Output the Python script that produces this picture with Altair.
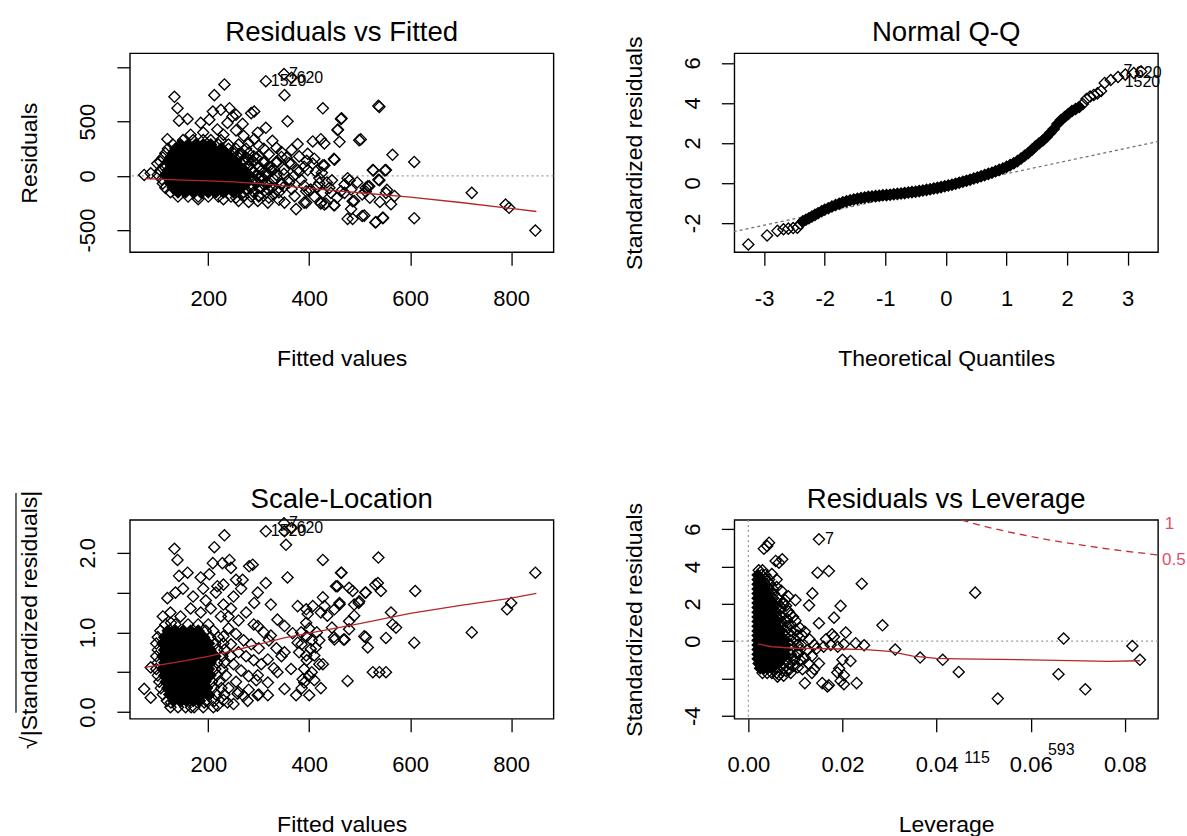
import altair as alt
import pandas as pd

FONT = "Liberation Sans"
W, H = 424, 199

# ---------------- Panel 1: Residuals vs Fitted ----------------
rvf_sparse = [
    (232, 844), (351, 745), (133, 730), (139, 625), (212, 745), (142, 510), (159, 525),
    (209, 594), (225, 610), (242, 625), (285, 579), (291, 594), (185, 489), (202, 519), (218, 429),
    (238, 489), (248, 549), (268, 480), (255, 564), (357, 504), (119, 339), (314, 444), (298, 399),
    (327, 324), (291, 339), (377, 294), (99, 114), (73, 9), (86, 24),
    (337, 129), (364, 114), (377, 54), (371, -186), (337, -126), (351, -246), (318, -246), (298, -231),
    (390, -246), (374, -306),
    (427, 624), (537, 646), (463, 525), (456, 423), (460, 315), (499, 330), (423, 339), (430, 300),
    (407, 318), (397, 204), (410, 159), (407, 114), (427, 99), (413, 39), (397, 54), (390, 84),
    (450, 150), (565, 195), (608, 129), (526, 54), (552, 54), (537, -36), (516, -96), (476, -21),
    (722, -156), (483, -126), (489, -231), (483, -306), (486, -396), (476, -396), (509, -366),
    (532, -426), (546, -390), (562, -261), (569, -186), (552, -156), (608, -390), (394, -246),
    (423, -255), (433, -255), (450, -270), (427, -156), (443, -156), (463, -141), (470, -156),
    (394, -141), (403, -126), (384, -36), (420, -66), (512, -111), (519, -96),
    (789, -264), (796, -294), (848, -504), (539, 637), (546, -384), (531, -429), (505, -369),
    (486, -234), (512, -144), (539, -39), (550, 51), (527, 51), (554, -129), (464, 532), (457, 427),
    (502, 337), (449, 157), (430, 97), (430, -264), (449, -270), (423, -249),
    (165, 380), (190, 400), (230, 380), (255, 420), (270, 370), (280, 300), (300, 280), (310, 250),
    (320, 200), (335, 260), (345, 220), (355, 170), (365, 240), (300, 180), (280, 150), (330, 60),
    (350, 20), (360, -30), (345, -80), (365, -120), (300, -180), (320, -200), (340, -220),
    (260, -230), (280, -240), (230, -215), (180, -215),
    (255, -200), (265, -170), (275, -130), (285, -90), (295, -50), (305, -10), (315, 30), (325, 80),
    (335, 130), (345, 175), (260, 200), (270, 150), (280, 100), (290, 40), (300, -20), (310, -80),
    (320, -130), (330, -170), (340, -150), (350, -100), (360, -60), (370, 0), (380, 40), (390, -90),
    (400, -140), (410, -190), (415, -100), (420, -20), (425, 30), (435, -60), (440, -110), (455, -200),
    (445, -40), (470, -80), (480, -40), (495, -60), (505, -170), (520, -200), (540, -240), (380, 180),
    (395, 140), (360, 120), (320, -60), (285, -190), (300, -110), (265, -60), (270, 60), (290, 180),
    (310, 120), (350, 60),
]
rvf_blob = {
    330: [150, 170, 190, 205, 225],
    290: [130, 145, 160, 175, 190, 205, 220, 240, 260],
    250: [120, 135, 150, 165, 180, 195, 210, 225, 240, 255, 275],
    210: [115, 130, 145, 160, 175, 190, 205, 220, 235, 250, 265, 280],
    170: [110, 125, 140, 155, 170, 185, 200, 215, 230, 245, 260, 275, 295],
    130: [105, 120, 135, 150, 165, 180, 195, 210, 225, 240, 255, 270, 290, 310],
    90: [112, 127, 142, 157, 172, 187, 202, 217, 232, 247, 262, 280, 300, 320],
    50: [105, 120, 135, 150, 165, 180, 195, 210, 225, 240, 255, 270, 285, 305, 325],
    10: [100, 115, 130, 145, 160, 175, 190, 205, 220, 235, 250, 265, 280, 295, 315, 335],
    -30: [108, 123, 138, 153, 168, 183, 198, 213, 228, 243, 258, 273, 290, 310, 330],
    -70: [110, 125, 140, 155, 170, 185, 200, 215, 230, 245, 260, 275, 295, 315, 345],
    -110: [115, 130, 145, 160, 175, 190, 205, 220, 235, 250, 265, 285, 305, 325],
    -150: [125, 140, 155, 170, 185, 200, 215, 230, 250, 270, 290, 315],
    -190: [140, 160, 180, 200, 220, 245, 270, 300],
}
rvf_ids = ["1520", "7", "620"]
rvf_id_fitted = [314, 350, 365]
rvf_id_resid = [874, 940, 905]
rvf_smooth_fitted = [75, 150, 200, 250, 300, 350, 400, 450, 500, 600, 700, 800, 850]
rvf_smooth_resid = [-25, -38, -45, -55, -70, -92, -115, -135, -155, -195, -245, -300, -328]

# ---------------- Panel 2: Normal Q-Q ----------------
qq_theoretical = [-3.26, -2.95, -2.78, -2.68, -2.60, -2.52, -2.45, -2.40, -2.36, -2.31, -2.26, -2.21,
                  -2.16, -2.11, -2.05, -2.00, -1.94, -1.88, -1.82, -1.76, -1.70, -1.64, -1.58, -1.52,
                  -1.46, -1.40, -1.34, -1.28, -1.22, -1.16, -1.10, -1.04, -0.98, -0.92, -0.86, -0.80,
                  -0.74, -0.68, -0.62, -0.56, -0.50, -0.44, -0.38, -0.32, -0.26, -0.20, -0.14, -0.08,
                  -0.02, 0.04, 0.10, 0.16, 0.22, 0.28, 0.34, 0.40, 0.46, 0.52, 0.58, 0.64, 0.70, 0.76,
                  0.82, 0.88, 0.94, 1.00, 1.06, 1.12, 1.18, 1.24, 1.30, 1.36, 1.42, 1.48, 1.54, 1.60,
                  1.66, 1.72, 1.78, 1.84, 1.90, 1.96, 2.02, 2.08, 2.14, 2.20, 2.26, 2.32, 2.38, 2.44,
                  2.50, 2.56, 2.62, 2.72, 2.84, 2.96, 3.10, 3.22]
qq_std_resid = [-3.08, -2.63, -2.40, -2.32, -2.29, -2.26, -2.24, -2.05, -1.92, -1.84, -1.77, -1.68,
                -1.60, -1.52, -1.42, -1.34, -1.27, -1.18, -1.11, -1.04, -0.97, -0.92, -0.87, -0.83,
                -0.79, -0.76, -0.73, -0.70, -0.68, -0.66, -0.64, -0.62, -0.61, -0.59, -0.57, -0.55,
                -0.53, -0.51, -0.48, -0.46, -0.44, -0.41, -0.38, -0.35, -0.32, -0.28, -0.25, -0.21,
                -0.17, -0.13, -0.09, -0.04, 0.01, 0.06, 0.11, 0.16, 0.22, 0.27, 0.33, 0.39, 0.45, 0.51,
                0.58, 0.65, 0.72, 0.80, 0.89, 0.98, 1.09, 1.22, 1.36, 1.50, 1.66, 1.83, 1.98, 2.12,
                2.30, 2.50, 2.70, 2.95, 3.15, 3.30, 3.45, 3.60, 3.70, 3.80, 3.95, 4.20, 4.32, 4.40,
                4.48, 4.60, 5.00, 5.15, 5.30, 5.42, 5.50, 5.58]
qq_dense_range = [-2.36, 2.20]
qq_line_x = [-3.5, 3.5]
qq_line_y = [-2.44, 2.07]
qq_ids = ["7", "620", "1520"]
qq_id_x = [2.93, 3.12, 2.95]
qq_id_y = [5.60, 5.50, 5.05]

# ---------------- Panel 3: Scale-Location ----------------
sl_sparse = [
    (232, 2.22), (351, 2.27), (354, 2.10), (133, 2.05), (139, 1.91), (212, 2.07), (142, 1.71),
    (159, 1.75), (242, 1.91), (228, 1.87), (209, 1.87), (245, 1.81), (281, 1.83), (288, 1.85),
    (255, 1.66), (268, 1.66), (185, 1.69), (202, 1.73), (218, 1.58), (357, 1.69), (314, 1.62),
    (119, 1.43), (298, 1.50), (324, 1.35), (291, 1.37), (377, 1.33), (394, 1.29), (86, 0.56),
    (73, 0.29), (86, 0.18), (126, 1.12),
    (298, 1.08), (324, 0.96), (337, 1.16), (351, 1.08), (367, 0.99), (377, 0.87), (351, 0.75),
    (318, 0.66), (298, 0.46), (318, 0.37), (337, 0.50), (364, 0.54), (351, 0.29), (374, 0.21),
    (390, 0.37), (318, 0.21),
    (126, 0.12), (146, 0.14), (166, 0.06), (192, 0.12), (218, 0.08), (238, 0.12), (258, 0.23),
    (278, 0.14), (298, 0.21),
    (427, 1.91), (537, 1.94), (463, 1.75), (456, 1.58), (479, 1.56), (486, 1.52), (536, 1.62),
    (542, 1.52), (427, 1.44), (407, 1.33), (430, 1.33), (450, 1.29), (460, 1.35), (489, 1.35),
    (499, 1.39), (512, 1.50), (397, 1.23), (423, 1.25), (436, 1.21), (394, 1.12), (489, 1.21),
    (479, 1.04), (470, 0.91), (450, 0.91), (509, 0.95), (516, 0.81), (552, 0.93), (562, 1.25),
    (565, 1.10), (572, 1.06), (610, 1.52), (608, 0.87), (722, 1.00), (526, 0.50), (539, 0.50),
    (552, 0.50), (476, 0.39), (423, 0.30), (400, 0.21), (390, 0.54), (394, 0.71), (387, 0.41),
    (410, 0.71), (420, 0.60), (427, 0.60), (403, 0.79), (413, 0.81),
    (848, 1.75), (800, 1.37), (792, 1.29), (531, 1.60), (511, 1.50), (498, 1.37), (464, 1.75),
    (453, 1.58), (460, 1.37), (479, 1.14), (449, 0.94), (468, 0.91), (445, 1.06), (512, 0.94),
    (384, 1.00), (395, 0.95), (405, 0.90), (400, 1.05), (415, 1.00), (420, 0.90), (385, 0.85),
    (380, 0.75), (395, 0.65), (405, 0.50), (385, 0.30), (410, 0.40), (400, 0.45),
    (225, 1.20), (245, 1.30), (260, 1.15), (240, 1.05), (255, 0.98), (270, 0.90), (285, 0.85),
    (300, 0.80), (230, 0.95), (245, 0.85), (260, 0.75), (275, 0.70), (290, 0.65), (305, 0.60),
    (250, 0.60), (265, 0.52), (280, 0.45), (295, 0.40), (255, 0.38), (240, 0.30), (260, 0.25),
    (280, 0.28), (300, 0.22), (230, 0.15), (250, 0.10), (270, 0.20), (320, 0.90), (335, 0.80),
    (345, 0.70), (330, 0.55), (310, 1.00), (290, 1.10), (275, 1.25), (230, 1.35), (205, 1.30),
    (185, 1.25), (165, 1.30), (145, 1.20), (125, 1.25), (110, 1.20), (195, 1.40), (215, 1.50),
    (170, 1.45), (150, 1.55), (135, 1.50), (250, 1.45), (265, 1.55), (230, 1.60), (190, 1.55),
    (240, 1.20),
]
sl_blob = {
    1.10: [115, 135, 160, 180, 200],
    1.02: [105, 120, 135, 150, 165, 180, 195, 210],
    0.94: [100, 113, 126, 139, 152, 165, 178, 191, 204, 220],
    0.86: [97, 110, 123, 136, 149, 162, 175, 188, 201, 214, 230],
    0.78: [100, 113, 126, 139, 152, 165, 178, 191, 204, 217, 232],
    0.70: [97, 110, 123, 136, 149, 162, 175, 188, 201, 214, 228, 245],
    0.62: [100, 113, 126, 139, 152, 165, 178, 191, 204, 217, 232],
    0.54: [97, 110, 123, 136, 149, 162, 175, 188, 201, 214, 228],
    0.46: [100, 113, 126, 139, 152, 165, 178, 191, 204, 217, 235],
    0.38: [103, 116, 129, 142, 155, 168, 181, 194, 207, 222],
    0.30: [106, 119, 132, 145, 158, 171, 184, 197, 210, 226],
    0.22: [110, 123, 136, 149, 162, 175, 188, 201, 215, 232],
    0.14: [118, 131, 144, 157, 170, 183, 196, 212],
    0.06: [125, 140, 155, 172, 190, 210],
}
sl_ids = ["1520", "7", "620"]
sl_id_fitted = [314, 350, 365]
sl_id_sqrt = [2.27, 2.37, 2.31]
sl_smooth_fitted = [75, 150, 200, 250, 300, 350, 400, 500, 600, 700, 800, 850]
sl_smooth_sqrt = [0.56, 0.64, 0.70, 0.77, 0.85, 0.93, 0.99, 1.11, 1.24, 1.34, 1.43, 1.49]

# ---------------- Panel 4: Residuals vs Leverage ----------------
lev_sparse = [
    (0.0033, 4.96), (0.0040, 5.10), (0.0044, 5.28), (0.0058, 4.30), (0.0072, 4.39), (0.0065, 4.21),
    (0.0147, 3.67), (0.0171, 3.76), (0.0241, 3.08), (0.0136, 2.56), (0.0129, 1.92), (0.0196, 1.89),
    (0.0182, 1.26), (0.0150, 0.96), (0.0207, 0.46), (0.0178, 0.37), (0.0182, 0.24), (0.0285, 0.85),
    (0.0228, -0.11), (0.0246, -0.22), (0.0203, -0.17), (0.0312, -0.45), (0.0200, -1.00),
    (0.0217, -1.06), (0.0193, -1.47), (0.0189, -1.68), (0.0203, -1.83), (0.0196, -2.13),
    (0.0120, -2.25), (0.0157, -2.25), (0.0171, -2.36), (0.0168, -2.43), (0.0203, -2.31),
    (0.0230, -2.25), (0.0365, -0.88), (0.0413, -1.00), (0.0447, -1.65), (0.0482, 2.60),
    (0.0530, -3.08), (0.0670, 0.14), (0.0659, -1.77), (0.0716, -2.58), (0.0816, -0.26),
    (0.0832, -1.00),
    (0.0075, 2.0), (0.0080, 1.9), (0.0068, 1.7), (0.0085, 1.6), (0.0095, 1.3), (0.0100, 1.1),
    (0.0090, 0.9), (0.0110, 0.7), (0.0120, 0.5), (0.0105, 0.3), (0.0130, 0.1), (0.0140, -0.2),
    (0.0125, -0.5), (0.0135, -0.8), (0.0110, -1.0), (0.0095, -1.3), (0.0080, -1.6), (0.0065, -1.8),
    (0.0090, -1.7), (0.0115, -1.5), (0.0145, -0.4), (0.0160, -0.3), (0.0100, 2.2), (0.0060, 3.3),
    (0.0050, 3.6), (0.0070, 2.7), (0.0085, 2.4), (0.0060, 2.9), (0.0175, -0.2), (0.0190, -0.3),
    (0.0165, 0.1),
    (0.0062, -1.9), (0.0075, -1.85), (0.0088, -1.5), (0.0098, -1.0), (0.0105, -0.6), (0.0112, -0.2),
    (0.0100, 0.6), (0.0090, 1.4), (0.0078, 2.2), (0.0082, 1.2), (0.0115, 0.3), (0.0120, -0.9),
    (0.0105, -1.4), (0.0128, -1.2), (0.0140, -1.5), (0.0150, -1.2), (0.0135, -1.7),
]
lev_blob = {
    3.80: [0.0022, 0.0030],
    3.55: [0.0020, 0.0028, 0.0036],
    3.30: [0.0020, 0.0028, 0.0036, 0.0044],
    3.05: [0.0020, 0.0028, 0.0036, 0.0046],
    2.80: [0.0020, 0.0028, 0.0036, 0.0044, 0.0052],
    2.55: [0.0020, 0.0028, 0.0036, 0.0044, 0.0054],
    2.30: [0.0020, 0.0028, 0.0036, 0.0044, 0.0052, 0.0062],
    2.05: [0.0020, 0.0028, 0.0036, 0.0044, 0.0052, 0.0062, 0.0072],
    1.80: [0.0020, 0.0028, 0.0036, 0.0044, 0.0052, 0.0060, 0.0070],
    1.55: [0.0020, 0.0028, 0.0036, 0.0044, 0.0052, 0.0060],
    1.30: [0.0020, 0.0028, 0.0036, 0.0044, 0.0052, 0.0060, 0.0070],
    1.05: [0.0020, 0.0028, 0.0036, 0.0044, 0.0052, 0.0060, 0.0070, 0.0080],
    0.80: [0.0020, 0.0028, 0.0036, 0.0044, 0.0052, 0.0060, 0.0070, 0.0082],
    0.55: [0.0020, 0.0028, 0.0036, 0.0044, 0.0052, 0.0060, 0.0068, 0.0078, 0.0090],
    0.30: [0.0020, 0.0028, 0.0036, 0.0044, 0.0052, 0.0060, 0.0068, 0.0078, 0.0092],
    0.05: [0.0020, 0.0028, 0.0036, 0.0044, 0.0052, 0.0060, 0.0068, 0.0078, 0.0090, 0.0100],
    -0.20: [0.0020, 0.0028, 0.0036, 0.0044, 0.0052, 0.0060, 0.0068, 0.0078, 0.0090, 0.0105],
    -0.45: [0.0020, 0.0028, 0.0036, 0.0044, 0.0052, 0.0060, 0.0068, 0.0078, 0.0090, 0.0110],
    -0.70: [0.0020, 0.0028, 0.0036, 0.0044, 0.0052, 0.0060, 0.0068, 0.0078, 0.0090, 0.0105],
    -0.95: [0.0020, 0.0028, 0.0036, 0.0044, 0.0052, 0.0060, 0.0068, 0.0080, 0.0095],
    -1.20: [0.0022, 0.0030, 0.0038, 0.0046, 0.0054, 0.0064, 0.0075, 0.0085],
    -1.45: [0.0025, 0.0033, 0.0041, 0.0050, 0.0060, 0.0075],
    -1.70: [0.0030, 0.0040, 0.0050, 0.0060],
}
lev_id_point = [(0.0150, 5.46)]
lev_ids = ["7"]
lev_low_ids = ["115", "593"]
lev_low_id_h = [0.0486, 0.0665]
lev_low_id_y = [-6.25, -5.82]
lev_smooth_h = [0.002, 0.005, 0.010, 0.015, 0.020, 0.025, 0.030, 0.035, 0.040, 0.045, 0.060, 0.0765, 0.0832]
lev_smooth_y = [-0.15, -0.30, -0.38, -0.40, -0.42, -0.45, -0.55, -0.80, -0.92, -0.95, -1.00, -1.08, -1.05]
cook_h = [0.0453, 0.050, 0.055, 0.060, 0.065, 0.070, 0.075, 0.080, 0.087]
cook_y = [6.49, 6.16, 5.87, 5.61, 5.38, 5.18, 4.99, 4.83, 4.62]
cook_labels = ["1", "0.5"]
cook_label_h = [0.0885, 0.0879]
cook_label_y = [6.28, 4.33]

# ---------------- helpers ----------------
def points_df(pairs, blob=None):
    xs = [p[0] for p in pairs]
    ys = [p[1] for p in pairs]
    if blob:
        for yv, xl in blob.items():
            for xv in xl:
                xs.append(xv)
                ys.append(yv)
    return pd.DataFrame({"x": xs, "y": ys})


def blob_core_df(blob, skip_first=1, skip_last=1):
    """Interior of an over-plotted cloud (drawn solid, as overlapping open symbols look)."""
    keys = sorted(blob.keys())
    xs, ys = [], []
    for yv in keys[1:-1]:
        xl = blob[yv]
        for xv in xl[skip_first:len(xl) - skip_last]:
            xs.append(xv)
            ys.append(yv)
    return pd.DataFrame({"x": xs, "y": ys})


def x_axis(values, expr, title):
    return alt.Axis(values=values, labelExpr=expr, title=title,
                    titleX=W / 2, titleY=106, titleAlign="center", titleBaseline="middle",
                    titleFont=FONT, titleFontSize=23, titleFontWeight="normal", titleColor="black",
                    labelFont=FONT, labelFontSize=22, labelColor="black",
                    labelBaseline="middle", labelAlign="center", labelPadding=33,
                    labelOverlap=False, labelFlush=False, labelBound=False,
                    tickSize=13, tickWidth=1.3, tickColor="black", domain=False, grid=False, offset=0)


def y_axis(values, expr, title):
    return alt.Axis(values=values, labelExpr=expr, title=title,
                    titleX=-100, titleY=H / 2, titleAngle=270, titleAlign="center", titleBaseline="middle",
                    titleFont=FONT, titleFontSize=23, titleFontWeight="normal", titleColor="black",
                    labelFont=FONT, labelFontSize=22, labelColor="black", labelAngle=270,
                    labelBaseline="middle", labelAlign="center", labelPadding=29,
                    labelOverlap=False, labelFlush=False, labelBound=False,
                    tickSize=13, tickWidth=1.3, tickColor="black", domain=False, grid=False, offset=0)


def title_mark(text):
    return alt.Chart(pd.DataFrame({"t": [text]})).mark_text(
        font=FONT, fontSize=27.6, color="black", align="center", baseline="alphabetic"
    ).encode(text="t:N", x=alt.value(W / 2), y=alt.value(-12))


def enc(xsc, ysc, xax, yax):
    return dict(x=alt.X("x:Q", scale=xsc, axis=xax), y=alt.Y("y:Q", scale=ysc, axis=yax))


def pts(df, e):
    return alt.Chart(df).mark_point(shape="diamond", filled=False, color="black", size=125,
                                    strokeWidth=1.35, opacity=1).encode(**e)


def pts_solid(df, e):
    return alt.Chart(df).mark_point(shape="diamond", filled=True, color="black", size=125,
                                    opacity=1).encode(**e)


def hline(e, color="#9a9a9a"):
    return alt.Chart(pd.DataFrame({"y": [0]})).mark_rule(color=color, strokeDash=[2, 3], strokeWidth=1.2).encode(y=e["y"])


def line(xs, ys, e, color, dash=None, sw=1.3):
    kw = dict(color=color, strokeWidth=sw)
    if dash:
        kw["strokeDash"] = dash
    return alt.Chart(pd.DataFrame({"x": xs, "y": ys})).mark_line(**kw).encode(**e)


def labels(ids, xs, ys, e, dx=5, align="left", color="black", size=16):
    return alt.Chart(pd.DataFrame({"x": xs, "y": ys, "t": ids})).mark_text(
        font=FONT, fontSize=size, align=align, baseline="middle", dx=dx, color=color
    ).encode(text="t:N", **e)


SMOOTH = "#b3272b"

# ---------------- Panel 1 ----------------
xs1 = alt.Scale(domain=[44.7, 884], nice=False, zero=False)
ys1 = alt.Scale(domain=[-703, 1131], nice=False, zero=False)
e1 = enc(xs1, ys1,
         x_axis([200, 400, 600, 800], "toString(datum.value)", "Fitted values"),
         y_axis([-500, 0, 500, 1000], "datum.value == 1000 ? '' : toString(datum.value)", "Residuals"))
anchor = alt.Chart(pd.DataFrame({"a": [0]})).mark_rect(opacity=0).encode(
    x=alt.value(-129), x2=alt.value(-128), y=alt.value(-52), y2=alt.value(-51))
p1 = alt.layer(
    hline(e1),
    pts(points_df(rvf_sparse + list(zip(rvf_id_fitted, rvf_id_resid)), rvf_blob), e1),
    pts_solid(blob_core_df(rvf_blob, 1, 3), e1),
    line(rvf_smooth_fitted, rvf_smooth_resid, e1, SMOOTH),
    labels(rvf_ids, rvf_id_fitted, rvf_id_resid, e1),
    title_mark("Residuals vs Fitted"),
    anchor,
).properties(width=W, height=H)

# ---------------- Panel 2 ----------------
xs2 = alt.Scale(domain=[-3.49, 3.50], nice=False, zero=False)
ys2 = alt.Scale(domain=[-3.465, 6.485], nice=False, zero=False)
e2 = enc(xs2, ys2,
         x_axis([-3, -2, -1, 0, 1, 2, 3], "toString(datum.value)", "Theoretical Quantiles"),
         y_axis([-2, 0, 2, 4, 6], "toString(datum.value)", "Standardized residuals"))
qq_df = pd.DataFrame({"x": qq_theoretical, "y": qq_std_resid})
qq_core = qq_df[(qq_df["x"] >= qq_dense_range[0]) & (qq_df["x"] <= qq_dense_range[1])]
p2 = alt.layer(
    line(qq_line_x, qq_line_y, e2, "#6e6e6e", dash=[3, 3], sw=1.2),
    pts(qq_df, e2),
    pts_solid(qq_core, e2),
    labels(qq_ids, qq_id_x, qq_id_y, e2, dx=0),
    title_mark("Normal Q-Q"),
).properties(width=W, height=H)

# ---------------- Panel 3 ----------------
ys3 = alt.Scale(domain=[-0.085, 2.413], nice=False, zero=False)
e3 = enc(xs1, ys3,
         x_axis([200, 400, 600, 800], "toString(datum.value)", "Fitted values"),
         y_axis([0, 0.5, 1, 1.5, 2], "(datum.value == 0.5 || datum.value == 1.5) ? '' : format(datum.value, '.1f')",
                "\u221a|Standardized residuals|"))
overbar = alt.Chart(pd.DataFrame({"a": [0]})).mark_rule(color="black", strokeWidth=1.2).encode(
    x=alt.value(-114), y=alt.value(-27), y2=alt.value(193))
p3 = alt.layer(
    pts(points_df(sl_sparse + list(zip(sl_id_fitted, sl_id_sqrt)), sl_blob), e3),
    pts_solid(blob_core_df(sl_blob, 1, 2), e3),
    line(sl_smooth_fitted, sl_smooth_sqrt, e3, SMOOTH),
    labels(sl_ids, sl_id_fitted, sl_id_sqrt, e3),
    title_mark("Scale-Location"),
    overbar,
).properties(width=W, height=H)

# ---------------- Panel 4 ----------------
xs4 = alt.Scale(domain=[-0.00297, 0.08705], nice=False, zero=False)
ys4 = alt.Scale(domain=[-4.16, 6.50], nice=False, zero=False)
e4 = enc(xs4, ys4,
         x_axis([0, 0.02, 0.04, 0.06, 0.08], "format(datum.value, '.2f')", "Leverage"),
         y_axis([-4, -2, 0, 2, 4, 6], "datum.value == -2 ? '' : toString(datum.value)", "Standardized residuals"))
vline4 = alt.Chart(pd.DataFrame({"x": [0]})).mark_rule(color="#9a9a9a", strokeDash=[2, 3], strokeWidth=1.2).encode(x=e4["x"])
p4 = alt.layer(
    hline(e4),
    vline4,
    line(cook_h, cook_y, e4, "#c0303c", dash=[7, 5], sw=1.3),
    pts(points_df(lev_sparse + lev_id_point, lev_blob), e4),
    pts_solid(blob_core_df(lev_blob, 0, 2), e4),
    line(lev_smooth_h, lev_smooth_y, e4, SMOOTH),
    labels(lev_ids, [p[0] for p in lev_id_point], [p[1] for p in lev_id_point], e4, dx=6),
    labels(lev_low_ids, lev_low_id_h, lev_low_id_y, e4, dx=0, align="center"),
    labels(cook_labels, cook_label_h, cook_label_y, e4, dx=0, color="#e0506a", size=17),
    title_mark("Residuals vs Leverage"),
).properties(width=W, height=H)

chart = alt.concat(
    p1, p2, p3, p4, columns=2,
    spacing=alt.RowColnumber(row=268, column=181), bounds="flush"
).properties(padding=0, background="white").configure_view(stroke="black", strokeWidth=1.4)

chart.save("out.html", embed_options={"renderer": "svg", "actions": False})
